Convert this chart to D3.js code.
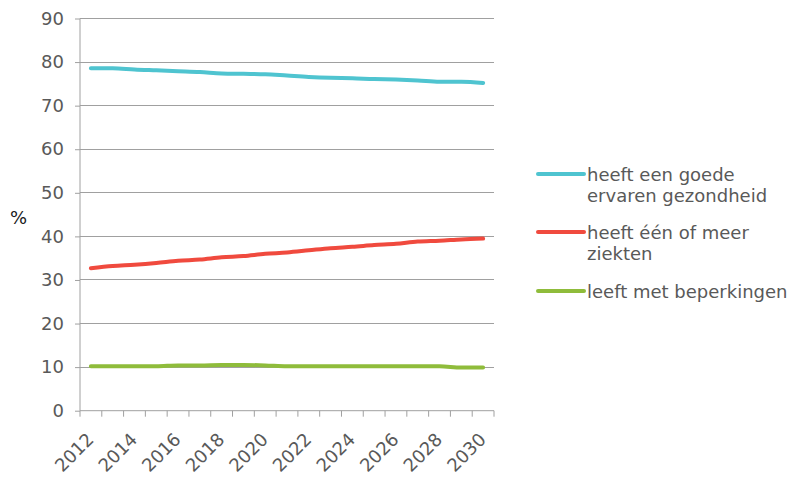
<!DOCTYPE html>
<html><head><meta charset="utf-8">
<script src="https://cdn.jsdelivr.net/npm/d3@7"></script>
<style>body{margin:0;background:#fff}svg{display:block}text{font-family:"DejaVu Sans",Verdana,sans-serif}</style>
</head><body><svg id="c" width="794" height="477"></svg>
<script>
const years = d3.range(2012, 2031).map(String);
const yTicks = [0,10,20,30,40,50,60,70,80,90];
const xLabels = ["2012","2014","2016","2018","2020","2022","2024","2026","2028","2030"];
const seriesNames = ["heeft een goede|ervaren gezondheid", "heeft één of meer|ziekten", "leeft met beperkingen"];
const seriesColors = ["#4fc4d0", "#f04a3e", "#8fbc3b"];
const goedeGezondheid = [78.6,78.6,78.3,78.1,77.9,77.7,77.4,77.3,77.2,76.9,76.6,76.4,76.3,76.1,76.0,75.8,75.5,75.5,75.2];
const ziekten = [32.7,33.2,33.5,33.9,34.4,34.7,35.2,35.5,36.0,36.3,36.8,37.3,37.6,38.0,38.3,38.8,39.0,39.3,39.5];
const beperkingen = [10.2,10.2,10.2,10.2,10.4,10.4,10.5,10.5,10.4,10.2,10.2,10.2,10.2,10.2,10.2,10.2,10.2,9.9,9.9];
const seriesValues = [goedeGezondheid, ziekten, beperkingen];

const svg = d3.select("#c");
const x = d3.scaleBand().domain(years).range([80, 494]).padding(0);
const y = d3.scaleLinear().domain([0, 90]).range([410.7, 18.5]);
const grey = "#a0a0a0", txt = "#595959";

// gridlines
svg.append("g").selectAll("line").data(yTicks.filter(d => d > 0)).join("line")
  .attr("x1", 80).attr("x2", 494).attr("y1", d => y(d)).attr("y2", d => y(d))
  .attr("stroke", grey).attr("stroke-width", 1).attr("shape-rendering","crispEdges");

// y axis
const ya = svg.append("g").attr("transform", "translate(80,0)")
  .call(d3.axisLeft(y).tickValues(yTicks).tickSize(5).tickPadding(11));
ya.select(".domain").attr("stroke", grey).attr("d", `M-0,${y(0)}V${y(90)}`);
ya.selectAll(".tick line").attr("stroke", grey);
ya.selectAll(".tick text").attr("fill", txt).attr("font-size", 18)
  .attr("font-family", '"DejaVu Sans",Verdana,sans-serif');

// x axis with ticks at band edges
const xa = svg.append("g").attr("transform", `translate(0,${y(0)})`);
xa.append("line").attr("x1", 80).attr("x2", 494).attr("stroke", grey);
const edges = years.map(d => x(d)).concat([x(years[years.length-1]) + x.bandwidth()]);
xa.selectAll("line.t").data(edges).join("line").attr("class","t")
  .attr("x1", d => d).attr("x2", d => d).attr("y1", 0).attr("y2", 6).attr("stroke", grey);
xa.selectAll("text").data(xLabels).join("text")
  .attr("transform", d => `translate(${x(d) + x.bandwidth()/2 - 5},${21}) rotate(-45)`)
  .attr("text-anchor", "end").attr("dy", "0.7em")
  .attr("fill", txt).attr("font-size", 18).text(d => d);

// lines
const line = d3.line().x((d, i) => x(years[i]) + x.bandwidth()/2).y(d => y(d)).curve(d3.curveMonotoneX);
svg.append("g").selectAll("path").data(seriesValues).join("path")
  .attr("d", d => line(d)).attr("fill", "none")
  .attr("stroke", (d, i) => seriesColors[i]).attr("stroke-width", 4).attr("stroke-linecap", "round");

// % label
svg.append("text").attr("x", 10).attr("y", 224).attr("font-size", 18).attr("fill", "#1a1a1a").text("%");

// legend
const legY = [174, 232, 291];
const leg = svg.append("g").selectAll("g").data(seriesNames).join("g");
leg.append("line").attr("x1", 538).attr("x2", 584).attr("y1", (d, i) => legY[i]).attr("y2", (d, i) => legY[i])
  .attr("stroke", (d, i) => seriesColors[i]).attr("stroke-width", 4).attr("stroke-linecap", "round");
leg.each(function(d, i) {
  const t = d3.select(this).append("text").attr("x", 587).attr("y", legY[i] + 6.5)
    .attr("font-size", 18).attr("fill", txt);
  d.split("|").forEach((s, k) => t.append("tspan").attr("x", 587).attr("dy", k ? 21.5 : 0).text(s));
});
</script></body></html>
